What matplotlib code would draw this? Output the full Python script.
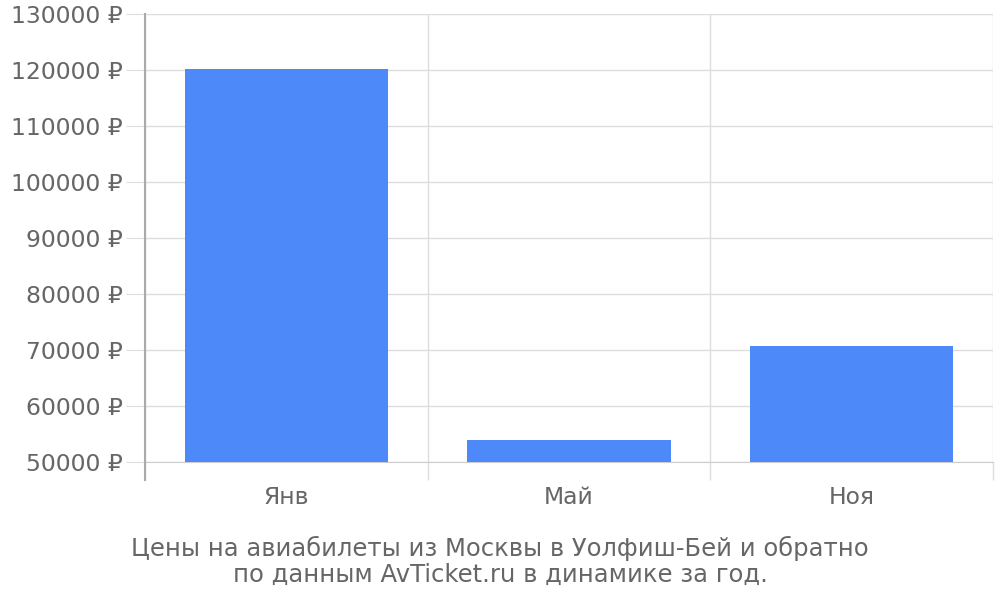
import matplotlib
matplotlib.use("Agg")
import matplotlib.pyplot as plt
from matplotlib.ticker import FuncFormatter

months = ["Янв", "Май", "Ноя"]
prices = [120200, 54000, 70800]
y_ticks = list(range(50000, 130001, 10000))
caption = ["Цены на авиабилеты из Москвы в Уолфиш-Бей и обратно",
           "по данным AvTicket.ru в динамике за год."]

TXT = "#666666"
GRID = "#dddddd"

fig = plt.figure(figsize=(10, 6), dpi=100)
ax = fig.add_axes([0.145, 0.23, 0.848, 0.7467])

x = list(range(len(months)))
ax.bar(x, prices, width=0.72, color="#4d89f9", zorder=3)

ax.set_xlim(-0.5, len(months) - 0.5)
ax.set_ylim(y_ticks[0], y_ticks[-1])

ax.set_yticks(y_ticks)
ax.yaxis.set_major_formatter(FuncFormatter(lambda v, _: f"{int(v)} ₽"))
ax.tick_params(axis="y", length=14, color=GRID, pad=2, labelsize=16.9, labelcolor=TXT)
ax.grid(axis="y", color=GRID, lw=1, zorder=0)

ax.set_xticks(x)
ax.set_xticklabels(months)
ax.tick_params(axis="x", which="major", length=0, pad=17, labelsize=16.9, labelcolor=TXT)
bounds = [i - 0.5 for i in range(len(months) + 1)]
ax.set_xticks(bounds, minor=True)
ax.tick_params(axis="x", which="minor", length=13, color=GRID, width=1)
ax.grid(axis="x", which="minor", color=GRID, lw=1, zorder=0)

for s in ["top", "right", "left"]:
    ax.spines[s].set_visible(False)
ax.spines["bottom"].set_color("#cccccc")
ax.axvline(-0.5, ymin=-0.04, ymax=1, color="#aaaaaa", lw=1.5, clip_on=False, zorder=4)

fig.text(0.5, 1 - 548 / 600, caption[0], ha="center", va="center", fontsize=17.5, color=TXT)
fig.text(0.5, 1 - 575 / 600, caption[1], ha="center", va="center", fontsize=17.5, color=TXT)

fig.savefig("out.png", dpi=100)
